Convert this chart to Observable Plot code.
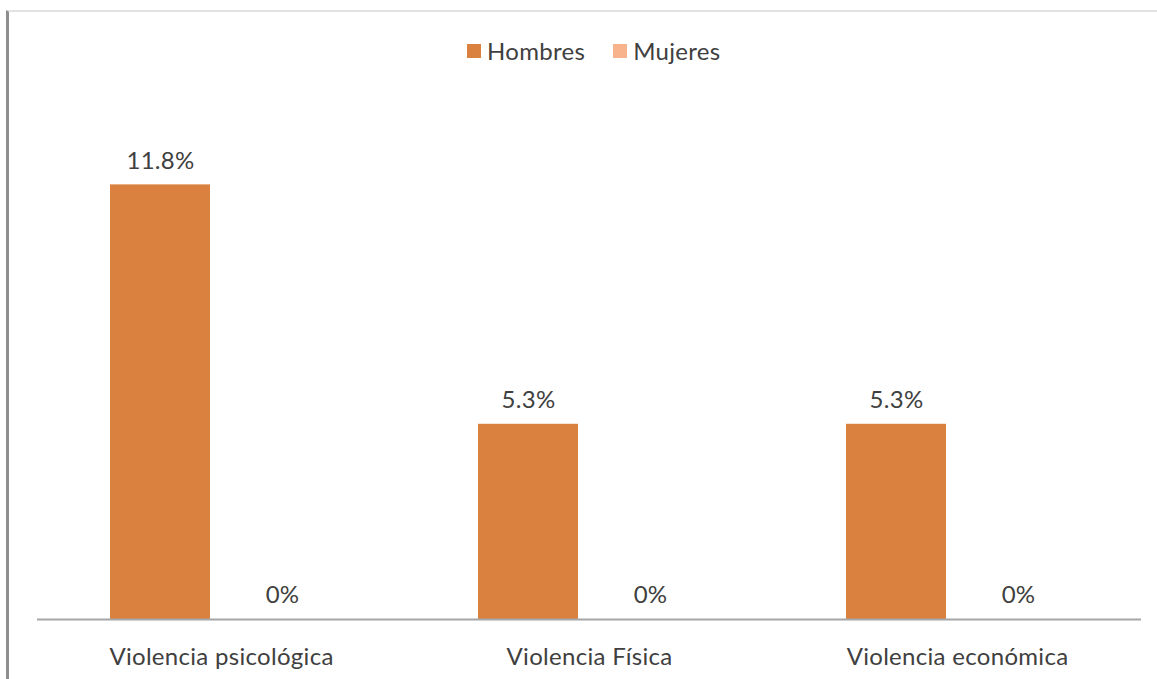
<!DOCTYPE html>
<html>
<head>
<meta charset="utf-8">
<script src="https://cdn.jsdelivr.net/npm/d3@7"></script>
<script src="https://cdn.jsdelivr.net/npm/@observablehq/plot@0.6"></script>
<style>
  html, body { margin: 0; padding: 0; background: #fff; }
  #wrap { position: relative; width: 1157px; height: 679px; overflow: hidden; font-family: Lato, "Open Sans", sans-serif; }
  #frame { position: absolute; left: 6px; top: 10px; right: -5px; bottom: -5px; border-left: 3px solid #8e8e8e; border-top: 2px solid #e2e2e2; }
  #legend { position: absolute; top: 36px; left: 467px; display: flex; gap: 28px; font-size: 24px; letter-spacing: 0.3px; color: #404040; }
  #legend .item { display: flex; align-items: center; gap: 6px; }
  #legend .sw { width: 14px; height: 14px; display: inline-block; }
  #chart { position: absolute; left: 0; top: 0; }
  #chart svg text { letter-spacing: 0.3px; }
</style>
</head>
<body>
<div id="wrap">
  <div id="frame"></div>
  <div id="chart"></div>
  <div id="legend"></div>
</div>
<script>
const categories = ["Violencia psicológica", "Violencia Física", "Violencia económica"];
const series = ["Hombres", "Mujeres"];
const hombres = [11.8, 5.3, 5.3];
const mujeres = [0, 0, 0];
const colors = ["#DB813F", "#F8B38C"];

const rows = [];
categories.forEach((c, i) => {
  rows.push({category: c, series: series[0], value: hombres[i]});
  rows.push({category: c, series: series[1], value: mujeres[i]});
});
const fmt = v => v === 0 ? "0%" : v.toFixed(1) + "%";

const chart = Plot.plot({
  width: 1157,
  height: 679,
  marginLeft: 37,
  marginRight: 16,
  marginTop: 177,
  marginBottom: 60,
  style: {fontFamily: "Lato, 'Open Sans', sans-serif", fontSize: "24px", color: "#404040", background: "transparent"},
  fx: {domain: categories, padding: 0, label: null, axis: "bottom", tickSize: 0, tickPadding: 28},
  x: {domain: series, paddingInner: 0.18, paddingOuter: 0.598, axis: null},
  y: {domain: [0, 12], axis: null},
  color: {domain: series, range: colors},
  marks: [
    Plot.barY(rows, {fx: "category", x: "series", y: "value", fill: "series"}),
    Plot.ruleY([0], {stroke: "#a6a6a6", strokeWidth: 2}),
    Plot.text(rows, {fx: "category", x: "series", y: "value", text: d => fmt(d.value), dy: -24, fill: "#404040", fontSize: 24})
  ]
});
document.getElementById("chart").appendChild(chart);

const legend = document.getElementById("legend");
series.forEach((s, i) => {
  const it = document.createElement("div");
  it.className = "item";
  const sw = document.createElement("span");
  sw.className = "sw";
  sw.style.background = colors[i];
  const t = document.createElement("span");
  t.textContent = s;
  it.appendChild(sw);
  it.appendChild(t);
  legend.appendChild(it);
});
</script>
</body>
</html>
